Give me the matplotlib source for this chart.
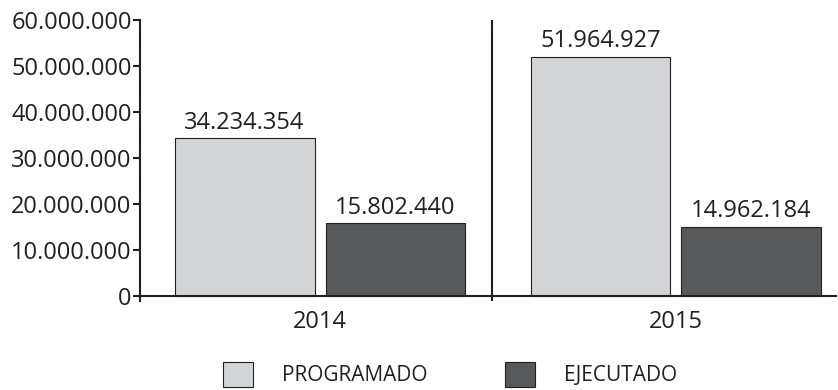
import numpy as np
import matplotlib.pyplot as plt
from matplotlib.ticker import FuncFormatter

years = ["2014", "2015"]
programado = [34234354, 51964927]
ejecutado = [15802440, 14962184]

c_prog = "#d3d4d6"
c_ejec = "#58595b"
c_line = "#231f20"

plt.rcParams['font.family'] = ['Open Sans', 'DejaVu Sans']
fs = 17

fig = plt.figure(figsize=(8.38, 3.9), dpi=100)
ax = fig.add_axes([140 / 838, 89 / 390, 696 / 838, 281 / 390])

x = np.arange(len(years))
width = 0.393
off = 0.212

b1 = ax.bar(x - off, programado, width, color=c_prog, edgecolor=c_line, linewidth=0.8, label="PROGRAMADO")
b2 = ax.bar(x + off, ejecutado, width, color=c_ejec, edgecolor=c_line, linewidth=0.8, label="EJECUTADO")

# value labels with dotted thousands
def fmt(v, pos=None):
    return f"{int(v):,}".replace(",", ".")

for bars in (b1, b2):
    for r in bars:
        ax.annotate(fmt(r.get_height()), (r.get_x() + r.get_width() / 2, r.get_height()),
                    xytext=(0, 7), textcoords="offset points", ha="center", va="baseline",
                    fontsize=fs, color=c_line)

ax.set_xlim(-0.506, 1.45)
ax.set_ylim(-1.1e6, 60e6)
ax.set_yticks(np.arange(0, 60e6 + 1, 10e6))
ax.yaxis.set_major_formatter(FuncFormatter(fmt))
ax.set_xticks(x)
ax.set_xticklabels(years)

for s in ("top", "right"):
    ax.spines[s].set_visible(False)
ax.spines["bottom"].set_position(("data", 0))
ax.spines["left"].set_bounds(-1.1e6, 60e6)
for s in ("left", "bottom"):
    ax.spines[s].set_color(c_line)
    ax.spines[s].set_linewidth(1.5)

# separator between years
ax.axvline(0.483, ymin=0, ymax=1, color=c_line, linewidth=1.5)

ax.tick_params(axis="y", direction="out", length=5, width=1.5, color=c_line, labelsize=fs, labelcolor=c_line, pad=1)
ax.tick_params(axis="x", length=0, labelsize=fs, labelcolor=c_line, pad=10)

fig.legend(handles=[b1, b2], loc="upper left", bbox_to_anchor=(223 / 838, 1 - 362 / 390),
           ncol=2, frameon=False, fontsize=15, handlelength=1.45, handleheight=1.45,
           handletextpad=1.4, columnspacing=3.7, borderpad=0, borderaxespad=0,
           labelcolor=c_line)

fig.savefig("out.png", dpi=100)
